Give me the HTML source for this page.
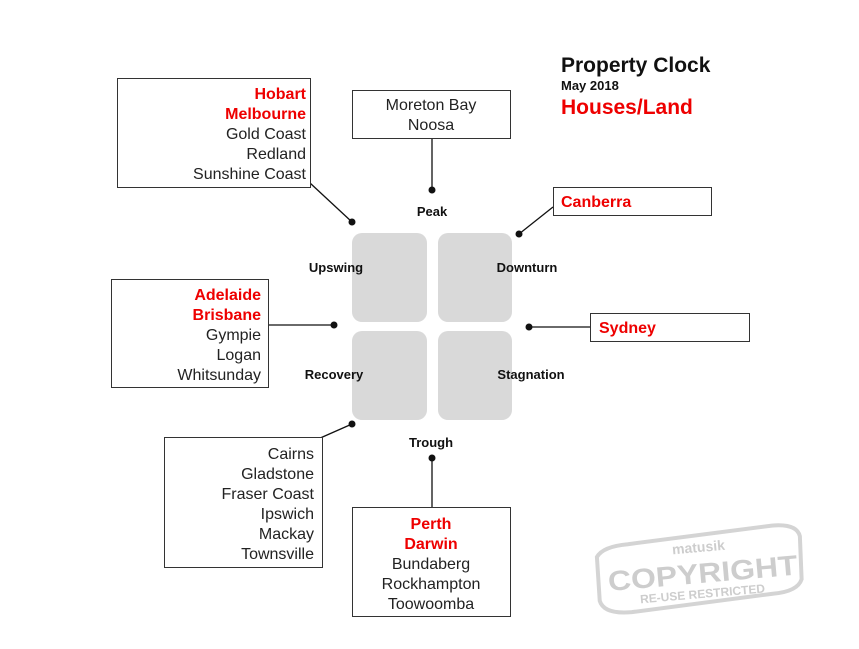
<!DOCTYPE html>
<html><head><style>
body{margin:0;background:#fff;}
svg text{font-family:"Liberation Sans",sans-serif;}
</style></head><body>
<svg width="859" height="644" viewBox="0 0 859 644" xmlns="http://www.w3.org/2000/svg">
<rect width="859" height="644" fill="#fff"/>
<g fill="#d9d9d9">
<rect x="352" y="233" width="75" height="89" rx="10"/>
<rect x="438" y="233" width="74" height="89" rx="10"/>
<rect x="352" y="331" width="75" height="89" rx="10"/>
<rect x="438" y="331" width="74" height="89" rx="10"/>
</g>
<g font-size="13" font-weight="bold" fill="#111" text-anchor="middle">
<text x="432" y="216">Peak</text>
<text x="336" y="272">Upswing</text>
<text x="527" y="272">Downturn</text>
<text x="334" y="379">Recovery</text>
<text x="531" y="379">Stagnation</text>
<text x="431" y="447">Trough</text>
</g>
<g stroke="#111" stroke-width="1.3" fill="none">
<line x1="310" y1="183" x2="352" y2="222"/>
<line x1="432" y1="138" x2="432" y2="190"/>
<line x1="553" y1="207" x2="519" y2="234"/>
<line x1="268" y1="325" x2="334" y2="325"/>
<line x1="529" y1="327" x2="590" y2="327"/>
<line x1="318" y1="439" x2="352" y2="424"/>
<line x1="432" y1="458" x2="432" y2="507"/>
</g>
<g fill="#111">
<circle cx="352" cy="222" r="3.5"/>
<circle cx="432" cy="190" r="3.5"/>
<circle cx="519" cy="234" r="3.5"/>
<circle cx="334" cy="325" r="3.5"/>
<circle cx="529" cy="327" r="3.5"/>
<circle cx="352" cy="424" r="3.5"/>
<circle cx="432" cy="458" r="3.5"/>
</g>
<g fill="#fff" stroke="#333" stroke-width="1">
<rect x="117.5" y="78.5" width="193" height="109"/>
<rect x="352.5" y="90.5" width="158" height="48"/>
<rect x="553.5" y="187.5" width="158" height="28"/>
<rect x="111.5" y="279.5" width="157" height="108"/>
<rect x="590.5" y="313.5" width="159" height="28"/>
<rect x="164.5" y="437.5" width="158" height="130"/>
<rect x="352.5" y="507.5" width="158" height="109"/>
</g>
<g font-size="16" fill="#222">
<g text-anchor="end">
<text x="306" y="99" fill="#e00" font-weight="bold">Hobart</text>
<text x="306" y="119" fill="#e00" font-weight="bold">Melbourne</text>
<text x="306" y="139">Gold Coast</text>
<text x="306" y="159">Redland</text>
<text x="306" y="179">Sunshine Coast</text>
<text x="261" y="300" fill="#e00" font-weight="bold">Adelaide</text>
<text x="261" y="320" fill="#e00" font-weight="bold">Brisbane</text>
<text x="261" y="340">Gympie</text>
<text x="261" y="360">Logan</text>
<text x="261" y="380">Whitsunday</text>
<text x="314" y="459">Cairns</text>
<text x="314" y="479">Gladstone</text>
<text x="314" y="499">Fraser Coast</text>
<text x="314" y="519">Ipswich</text>
<text x="314" y="539">Mackay</text>
<text x="314" y="559">Townsville</text>
</g>
<g text-anchor="middle">
<text x="431" y="110">Moreton Bay</text>
<text x="431" y="130">Noosa</text>
<text x="431" y="529" fill="#e00" font-weight="bold">Perth</text>
<text x="431" y="549" fill="#e00" font-weight="bold">Darwin</text>
<text x="431" y="569">Bundaberg</text>
<text x="431" y="589">Rockhampton</text>
<text x="431" y="609">Toowoomba</text>
</g>
<text x="561" y="207" fill="#e00" font-weight="bold">Canberra</text>
<text x="599" y="333" fill="#e00" font-weight="bold">Sydney</text>
</g>
<text x="561" y="72" font-size="21" font-weight="bold" fill="#111">Property Clock</text>
<text x="561" y="90" font-size="13" font-weight="bold" fill="#111">May 2018</text>
<text x="561" y="114" font-size="21" font-weight="bold" fill="#e00">Houses/Land</text>
<g transform="rotate(-5 700 565)" opacity="0.9">
<path d="M598 548 Q605 538 630 538 L775 532 Q800 532 802 545 L800 588 Q795 600 770 600 L628 606 Q600 606 597 592 Z" fill="none" stroke="#d0d0d0" stroke-width="4"/>
<text x="700" y="552" font-size="14" font-family="Liberation Serif,serif" font-weight="bold" fill="#c8c8c8" text-anchor="middle">matusik</text>
<text x="607" y="583" font-size="28" font-weight="bold" fill="#c8c8c8" textLength="190" lengthAdjust="spacingAndGlyphs">COPYRIGHT</text>
<text x="700" y="598" font-size="12" font-weight="bold" fill="#c8c8c8" text-anchor="middle">RE-USE RESTRICTED</text>
</g>
</svg>
</body></html>
